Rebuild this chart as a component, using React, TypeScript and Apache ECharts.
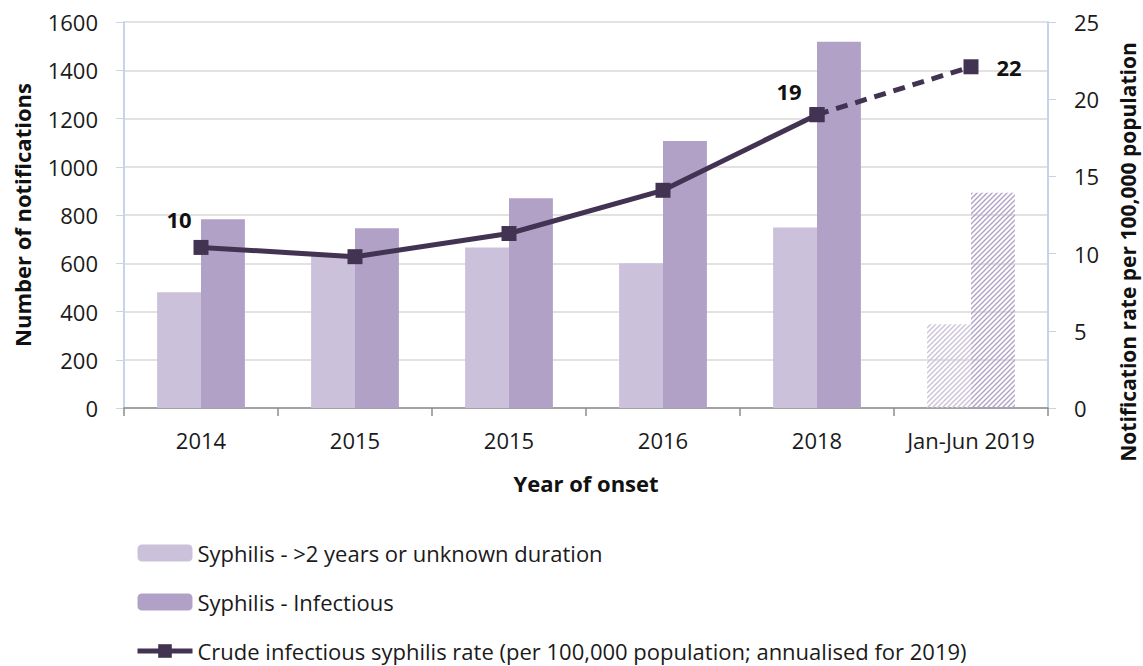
import React, { useEffect, useRef } from "react";
import * as echarts from "echarts";

// Categories (year of onset) and values
const categories = ["2014", "2015", "2015", "2016", "2018", "Jan-Jun 2019"];
const lateOrUnknown = [480, 630, 665, 600, 748, 347];
const infectious = [782, 745, 869, 1107, 1518, 892];
const rate = [10.4, 9.8, 11.3, 14.1, 19.0, 22.1];
const labelledRatePoints = [0, 4, 5];
const partialYearIndex = 5;

const leftTicks = { min: 0, max: 1600, interval: 200 };
const rightTicks = { min: 0, max: 25, interval: 5 };

const seriesNames = [
  "Syphilis - >2 years or unknown duration",
  "Syphilis - Infectious",
  "Crude infectious syphilis rate (per 100,000 population; annualised for 2019)",
];

const LIGHT = "#cbc1da";
const DARK = "#b1a1c7";
const LINE = "#433352";
const FONT = "'Open Sans', 'Noto Sans', sans-serif";

function hatch(color: string) {
  const size = 5;
  const c = document.createElement("canvas");
  c.width = size;
  c.height = size;
  const ctx = c.getContext("2d")!;
  ctx.strokeStyle = color;
  ctx.lineWidth = 1.4;
  ctx.beginPath();
  ctx.moveTo(-1, size + 1);
  ctx.lineTo(size + 1, -1);
  ctx.moveTo(-1, 1);
  ctx.lineTo(1, -1);
  ctx.moveTo(size - 1, size + 1);
  ctx.lineTo(size + 1, size - 1);
  ctx.stroke();
  return { image: c, repeat: "repeat" as const };
}

export default function App() {
  const ref = useRef<HTMLDivElement>(null);

  useEffect(() => {
    if (!ref.current) return;
    const chart = echarts.init(ref.current, undefined, { renderer: "svg" });

    const barData = (vals: number[], color: string) =>
      vals.map((v, i) =>
        i === partialYearIndex
          ? { value: v, itemStyle: { color: hatch(color) } }
          : v
      );

    const labelOffsets: Record<number, [number, number]> = {
      0: [-22, -28],
      4: [-28, -24],
      5: [38, 0],
    };

    const rateItem = (v: number, i: number) => {
      if (labelledRatePoints.indexOf(i) < 0) return v;
      return {
        value: v,
        label: {
          show: true,
          position: "inside",
          offset: labelOffsets[i],
          formatter: () => String(Math.round(v)),
          fontSize: 22,
          fontWeight: "bold",
          color: "#111",
          fontFamily: FONT,
        },
      };
    };

    const solidRate = rate.map((v, i) => (i <= partialYearIndex - 1 ? rateItem(v, i) : null));
    const dashedRate = rate.map((v, i) => (i >= partialYearIndex - 1 ? rateItem(v, i) : null));
    // the 2018 point is labelled by the solid segment already
    dashedRate[partialYearIndex - 1] = rate[partialYearIndex - 1] as any;

    const axisLabel = {
      fontSize: 22,
      color: "#1a1a1a",
      fontFamily: FONT,
      formatter: (v: any) => String(v),
    };

    chart.setOption({
      animation: false,
      textStyle: { fontFamily: FONT },
      grid: { left: 124, right: 95, top: 22, bottom: 258, containLabel: false },
      legend: {
        orient: "vertical",
        left: 135,
        top: 542,
        height: 200,
        padding: 0,
        itemGap: 27,
        itemWidth: 55,
        itemHeight: 17,
        data: [
          { name: seriesNames[0] },
          { name: seriesNames[1] },
          { name: seriesNames[2], lineStyle: { width: 5 } },
        ],
        textStyle: { fontSize: 22, color: "#1a1a1a", fontFamily: FONT, lineHeight: 22 },
      },
      xAxis: {
        type: "category",
        data: categories,
        axisLine: { lineStyle: { color: "#8c8c8c", width: 1.5 } },
        axisTick: { show: true, interval: 0, length: 8, lineStyle: { color: "#8c8c8c", width: 1.5 } },
        axisLabel: { ...axisLabel, interval: 0, margin: 21 },
      },
      yAxis: [
        {
          type: "value",
          ...leftTicks,
          axisLine: { show: true, lineStyle: { color: "#c5d4ea", width: 2 } },
          axisTick: { show: true, inside: false, length: 8, lineStyle: { color: "#c5d4ea" } },
          splitLine: { lineStyle: { color: "#d9d9d9", width: 1.5 } },
          axisLabel: { ...axisLabel, margin: 26 },
        },
        {
          type: "value",
          position: "right",
          ...rightTicks,
          axisLine: { show: true, lineStyle: { color: "#c5d4ea", width: 2 } },
          axisTick: { show: true, length: 8, lineStyle: { color: "#c5d4ea" } },
          splitLine: { show: false },
          axisLabel: { ...axisLabel, margin: 26 },
        },
      ],
      series: [
        {
          name: seriesNames[0],
          type: "bar",
          data: barData(lateOrUnknown, LIGHT),
          itemStyle: { color: LIGHT },
          barGap: "0%",
          barCategoryGap: "43%",
        },
        {
          name: seriesNames[1],
          type: "bar",
          data: barData(infectious, DARK),
          itemStyle: { color: DARK },
          barGap: "0%",
          barCategoryGap: "43%",
        },
        {
          name: seriesNames[2],
          type: "line",
          yAxisIndex: 1,
          data: solidRate,
          symbol: "rect",
          symbolSize: 15,
          itemStyle: { color: LINE },
          lineStyle: { color: LINE, width: 5 },
          z: 5,
        },
        {
          name: "rate-partial-year",
          type: "line",
          yAxisIndex: 1,
          data: dashedRate,
          symbol: "rect",
          symbolSize: 15,
          itemStyle: { color: LINE },
          lineStyle: { color: LINE, width: 5, type: [12, 8] },
          z: 4,
        },
      ],
      graphic: [
        {
          type: "text",
          x: 22,
          y: 215,
          rotation: Math.PI / 2,
          style: {
            text: "Number of notifications",
            font: `bold 22px ${FONT}`,
            fill: "#111",
            align: "center",
            verticalAlign: "middle",
          },
        },
        {
          type: "text",
          x: 1128,
          y: 252,
          rotation: Math.PI / 2,
          style: {
            text: "Notification rate per 100,000 population",
            font: `bold 21px ${FONT}`,
            fill: "#111",
            align: "center",
            verticalAlign: "middle",
          },
        },
        {
          type: "text",
          x: 586,
          y: 483,
          style: {
            text: "Year of onset",
            font: `bold 22px ${FONT}`,
            fill: "#111",
            align: "center",
            verticalAlign: "middle",
          },
        },
      ],
    });

    return () => chart.dispose();
  }, []);

  return <div ref={ref} style={{ width: 1143, height: 666, position: "absolute", left: 0, top: 0 }} />;
}
